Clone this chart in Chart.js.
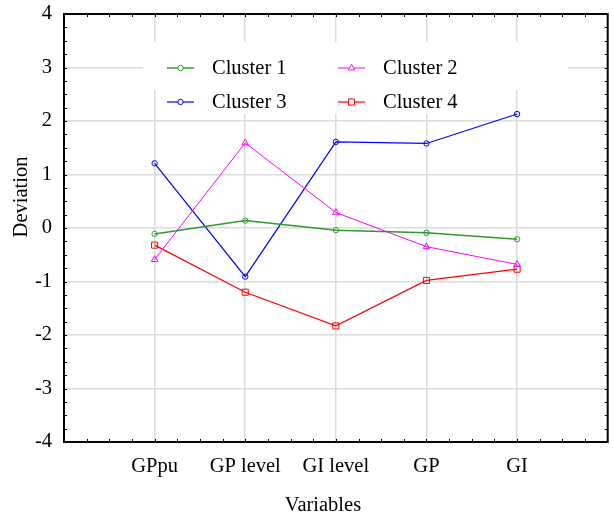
<!DOCTYPE html>
<html>
<head>
<meta charset="utf-8">
<style>
  html, body { margin:0; padding:0; background:#fff; }
  #wrap { width:613px; height:518px; }
</style>
<script src="https://cdn.jsdelivr.net/npm/chart.js@4.4.1/dist/chart.umd.min.js"></script>
</head>
<body>
<div id="wrap"><canvas id="chart"></canvas></div>
<script>
// ========== Data ==========
const variables = ['GPpu', 'GP level', 'GI level', 'GP', 'GI'];
const cluster1 = [-0.11, 0.14, -0.04, -0.09, -0.21];
const cluster2 = [-0.59, 1.59, 0.29, -0.35, -0.68];
const cluster3 = [1.21, -0.91, 1.61, 1.58, 2.13];
const cluster4 = [-0.32, -1.20, -1.83, -0.98, -0.77];
const yTicks = [-4, -3, -2, -1, 0, 1, 2, 3, 4];
const xTitle = 'Variables';
const yTitle = 'Deviation';

const FONT = '"Liberation Serif", "Times New Roman", serif';
const FSIZE = 20.5;
const GRID = '#dcdcdc';

// variables sit at x = 1..5 on a 0..6 axis
function toPoints(vals){ return vals.map((v, i) => ({ x: i + 1, y: v })); }

// ========== Plugins ==========
// frame with inward minor ticks on all four sides
const framePlugin = {
  id: 'frame',
  afterDraw(chart) {
    const { ctx, chartArea: a, scales: { x, y } } = chart;
    ctx.save();
    ctx.strokeStyle = '#000';
    ctx.lineWidth = 1;
    ctx.beginPath();
    for (let v = 0.25; v < 6; v += 0.25) {
      const px = Math.round(x.getPixelForValue(v)) + 0.5;
      ctx.moveTo(px, a.bottom); ctx.lineTo(px, a.bottom - 3);
      ctx.moveTo(px, a.top); ctx.lineTo(px, a.top + 3);
    }
    for (let v = -3.75; v < 4; v += 0.25) {
      const py = Math.round(y.getPixelForValue(v)) + 0.5;
      ctx.moveTo(a.left, py); ctx.lineTo(a.left + 3, py);
      ctx.moveTo(a.right, py); ctx.lineTo(a.right - 3, py);
    }
    ctx.stroke();
    ctx.lineWidth = 2;
    ctx.strokeRect(a.left, a.top, a.right - a.left, a.bottom - a.top);

    // axis titles
    ctx.fillStyle = '#000';
    ctx.font = FSIZE + 'px ' + FONT;
    ctx.textAlign = 'center';
    ctx.textBaseline = 'middle';
    ctx.fillText(xTitle, 323, 506);
    ctx.translate(22, 197);
    ctx.rotate(-Math.PI / 2);
    ctx.fillText(yTitle, 0, 0);
    ctx.restore();
  }
};

// two-column legend with a line+marker sample
const legendPlugin = {
  id: 'boxLegend',
  afterDatasetsDraw(chart) {
    const { ctx } = chart;
    const sets = chart.data.datasets;
    const cols = [167, 338];
    const rows = [68, 102];
    ctx.save();
    ctx.fillStyle = '#fff';
    ctx.fillRect(143, 42, 425, 48);
    ctx.fillRect(161, 90, 132, 24);
    ctx.fillRect(334, 90, 132, 24);
    sets.forEach((ds, i) => {
      const cx = cols[i % 2], cy = rows[Math.floor(i / 2)];
      ctx.strokeStyle = ds.borderColor;
      ctx.lineWidth = ds.borderWidth;
      ctx.beginPath();
      ctx.moveTo(cx, cy); ctx.lineTo(cx + 27, cy);
      ctx.stroke();
      ctx.lineWidth = 1;
      ctx.fillStyle = '#fff';
      Chart.helpers.drawPoint(ctx, {
        pointStyle: ds.pointStyle, radius: ds.pointRadius, borderWidth: 1
      }, cx + 13.5, cy);
      ctx.fillStyle = '#000';
      ctx.font = FSIZE + 'px ' + FONT;
      ctx.textAlign = 'left';
      ctx.textBaseline = 'middle';
      ctx.fillText(ds.label, cx + 45, cy + 1);
    });
    ctx.restore();
  }
};

// ========== Chart ==========
function series(label, vals, color, style, radius, width) {
  return {
    label, data: toPoints(vals),
    borderColor: color, backgroundColor: 'rgba(255,255,255,0)',
    borderWidth: width, pointStyle: style, pointRadius: radius,
    pointBorderColor: color, pointBackgroundColor: 'rgba(255,255,255,0)',
    pointBorderWidth: 1, tension: 0
  };
}

new Chart(document.getElementById('chart'), {
  type: 'line',
  data: {
    datasets: [
      series('Cluster 1', cluster1, '#2e9a2e', 'circle', 2.7, 1.5),
      series('Cluster 2', cluster2, '#ff00ff', 'triangle', 3.8, 1),
      series('Cluster 3', cluster3, '#0000ff', 'circle', 2.7, 1.2),
      series('Cluster 4', cluster4, '#ff0000', 'rect', 4.3, 1.2)
    ]
  },
  options: {
    responsive: true,
    maintainAspectRatio: false,
    animation: false,
    layout: { padding: { top: 14, right: 0, left: 0, bottom: 0 } },
    plugins: { legend: { display: false }, tooltip: { enabled: false } },
    scales: {
      x: {
        type: 'linear', min: 0, max: 6,
        afterFit: s => { s.height = 76; s.paddingLeft = 0; s.paddingRight = 0; },
        afterBuildTicks: s => { s.ticks = [0, 1, 2, 3, 4, 5, 6].map(v => ({ value: v })); },
        border: { display: false },
        grid: {
          drawTicks: false,
          color: c => (c.tick && c.tick.value >= 1 && c.tick.value <= 5) ? GRID : 'rgba(0,0,0,0)',
          lineWidth: 1.5
        },
        ticks: {
          padding: 12, color: '#000', autoSkip: false, maxRotation: 0,
          font: { family: FONT, size: FSIZE },
          callback: v => variables[v - 1] || ''
        }
      },
      y: {
        min: -4, max: 4,
        afterFit: s => { s.width = 64; s.paddingTop = 0; s.paddingBottom = 0; },
        afterBuildTicks: s => { s.ticks = yTicks.map(v => ({ value: v })); },
        border: { display: false },
        grid: {
          drawTicks: false,
          color: c => (c.tick && Math.abs(c.tick.value) < 4) ? GRID : 'rgba(0,0,0,0)',
          lineWidth: 1.5
        },
        ticks: {
          padding: 12, color: '#000',
          font: { family: FONT, size: FSIZE },
          callback: v => String(v)
        }
      }
    }
  },
  plugins: [legendPlugin, framePlugin]
});
</script>
</body>
</html>
